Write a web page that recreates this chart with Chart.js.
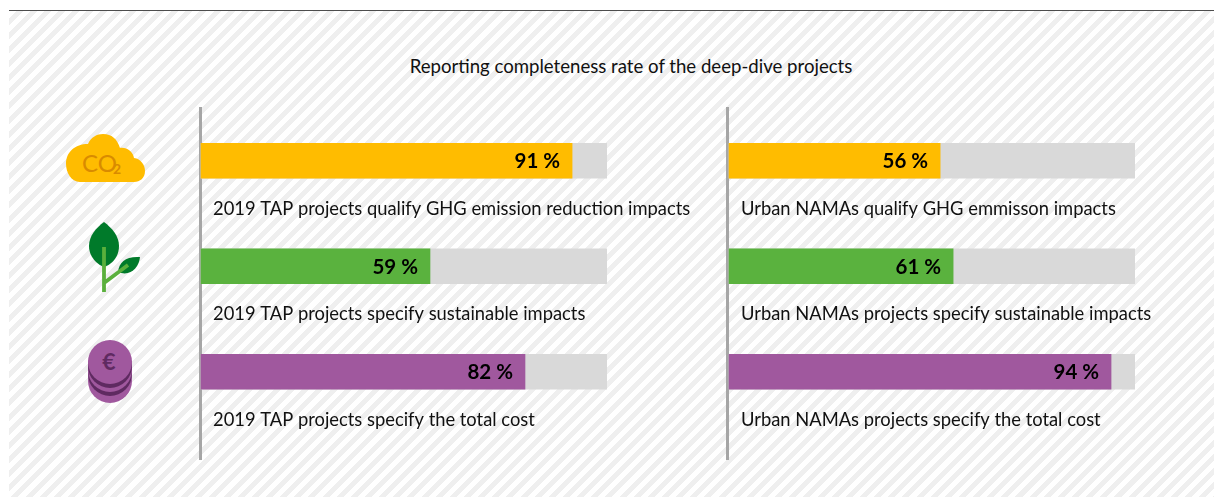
<!DOCTYPE html>
<html><head><meta charset="utf-8">
<script src="https://cdn.jsdelivr.net/npm/chart.js@4"></script>
<style>
html,body{margin:0;padding:0;background:#fff;width:1214px;height:497px;overflow:hidden}
#bg{position:absolute;left:9px;top:10px;width:1205px;height:487px;box-sizing:border-box;border-top:1.5px solid #4d4d4d;
background:repeating-linear-gradient(135deg,#fff 0,#fff 5px,#efefef 5px,#efefef 10px)}
#title{position:absolute;left:0;top:55px;width:1262px;text-align:center;font:18.6px Lato,sans-serif;color:#111;white-space:nowrap}
canvas{position:absolute;top:0}
svg{position:absolute;left:0;top:0}
</style></head><body>
<div id="bg"></div>
<div id="title">Reporting completeness rate of the deep-dive projects</div>
<svg width="1214" height="497" viewBox="0 0 1214 497">
  <path d="M80 182 C71 182 66 172 66 164 C66 152 75 144 88 144 C91 137 97 134 103 134 C112 134 117 139 120 148 C127 147 133 152 134 158 C141 159 145 165 145 171 C145 178 140 182 134 182 Z" fill="#ffbc00"/>
  <text x="82" y="172" font-family="Lato,sans-serif" font-size="24" fill="#d98b00">CO</text>
  <text x="113" y="174" font-family="Lato,sans-serif" font-size="14" font-weight="700" fill="#d98b00">2</text>
  <path d="M104 222 C96 228 89 236 89 246 C89 256 96 264 104 267 C113 264 119 256 119 246 C119 236 112 228 104 222 Z" fill="#007a2a"/>
  <path d="M118 272 C119 262 126 256 140 257 C139 268 130 277 118 272 Z" fill="#007a2a"/>
  <path d="M104 247 V292 M104 283 L128 265" stroke="#5ab03c" stroke-width="3.8" fill="none"/>
  <circle cx="110" cy="381" r="22" fill="#a0589e"/>
  <circle cx="110" cy="374" r="22" fill="#5f2a61"/>
  <circle cx="110" cy="370" r="22" fill="#a0589e"/>
  <circle cx="110" cy="366" r="22" fill="#5f2a61"/>
  <circle cx="110" cy="362" r="22" fill="#a0589e"/>
  <text x="109" y="370" text-anchor="middle" font-family="Lato,sans-serif" font-size="23" font-weight="700" fill="#5f2a61">€</text>
</svg>
<canvas id="left" width="528" height="497" style="left:190px;width:528px;height:497px"></canvas>
<canvas id="right" width="497" height="497" style="left:717px;width:497px;height:497px"></canvas>
<script>
const positions = [0, 1, 2];
const colors = ['#ffbc00', '#5ab23e', '#a0589e'];
const track = [100, 100, 100];

const leftBars = [91.4, 56.4, 79.8];
const leftValueLabels = ['91 %', '59 %', '82 %'];
const leftCaptions = [
  '2019 TAP projects qualify GHG emission reduction impacts',
  '2019 TAP projects specify sustainable impacts',
  '2019 TAP projects specify the total cost'
];

const rightBars = [52, 55.2, 94.1];
const rightValueLabels = ['56 %', '61 %', '94 %'];
const rightCaptions = [
  'Urban NAMAs qualify GHG emmisson impacts',
  'Urban NAMAs projects specify sustainable impacts',
  'Urban NAMAs projects specify the total cost'
];

function build(id, bars, valueLabels, captions, padRight, xMin) {
  new Chart(document.getElementById(id), {
    type: 'bar',
    data: { datasets: [
      { data: bars.map((v, i) => ({ x: v, y: positions[i] })), backgroundColor: colors, order: 1, barThickness: 35, grouped: false },
      { data: track.map((v, i) => ({ x: v, y: positions[i] })), backgroundColor: '#d9d9d9', order: 2, barThickness: 35, grouped: false }
    ]},
    options: {
      indexAxis: 'y', responsive: false, animation: false,
      layout: { padding: { left: 10, right: padRight, top: 108, bottom: 38 } },
      plugins: { legend: { display: false }, tooltip: { enabled: false } },
      scales: {
        x: { type: 'linear', min: xMin, max: 100, display: false },
        y: { type: 'linear', reverse: true, min: -0.5, max: 2.827, offset: false,
             grid: { display: false, drawTicks: false },
             border: { display: true, color: '#a6a6a6', width: 3 },
             ticks: { display: false } }
      }
    },
    plugins: [{
      id: 'labels',
      afterDatasetsDraw(chart) {
        const c = chart.ctx, xs = chart.scales.x, ys = chart.scales.y;
        c.save();
        c.textBaseline = 'middle';
        bars.forEach((v, i) => {
          const y = ys.getPixelForValue(positions[i]);
          c.fillStyle = '#000';
          c.textAlign = 'right';
          c.font = 'bold 20.5px Lato, sans-serif';
          c.fillText(valueLabels[i], xs.getPixelForValue(v) - 12, y + 1);
          c.fillStyle = '#111';
          c.textAlign = 'left';
          c.font = '18.35px Lato, sans-serif';
          c.fillText(captions[i], xs.getPixelForValue(0) + 12, y + 48);
        });
        c.restore();
      }
    }]
  });
}
build('left', leftBars, leftValueLabels, leftCaptions, 111, -0.25);
build('right', rightBars, rightValueLabels, rightCaptions, 79, -0.5);
</script>
</body></html>
